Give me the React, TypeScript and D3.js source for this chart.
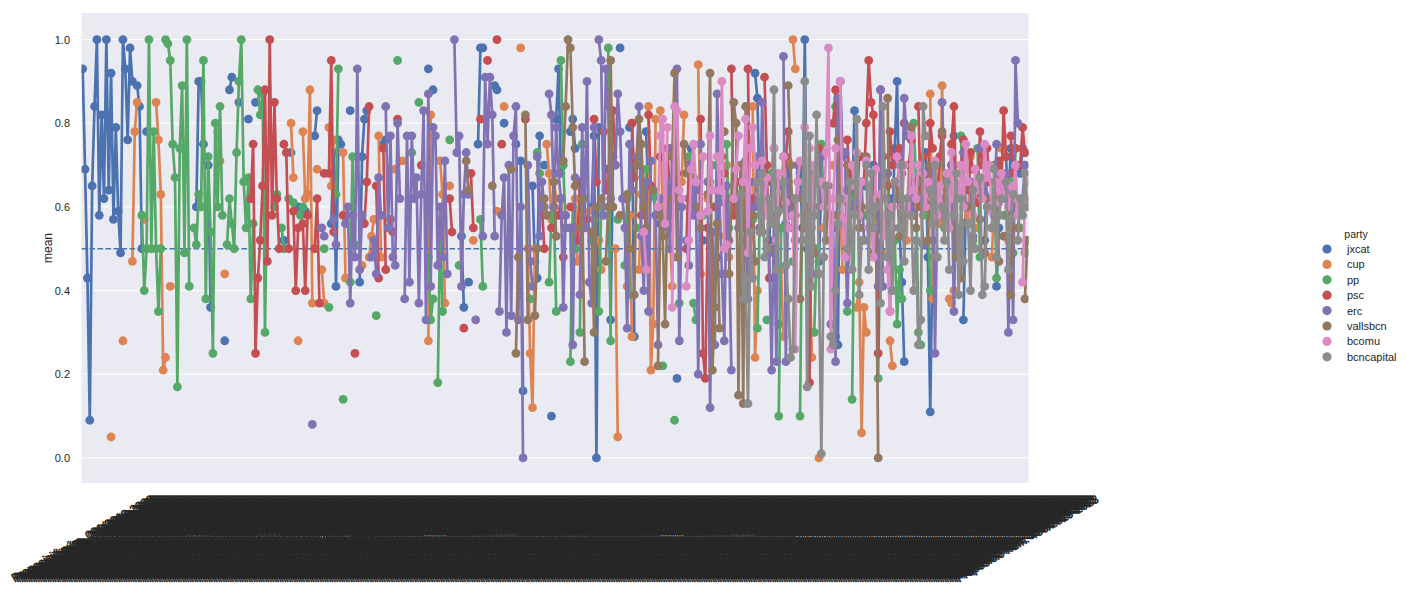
import React, { useEffect, useRef } from "react";
import * as d3 from "d3";

type Run = [number, number[]]; // [first category index, consecutive values]

const N_CATEGORIES = 400;
// tick labels are unreadable in the reference (a solid block of rotated text)
const categories: string[] = d3
    .range(N_CATEGORIES)
    .map((i) => `Proposició núm. ${String(i + 1).padStart(3, "0")}/2019-2023`);

const parties = ["jxcat", "cup", "pp", "psc", "erc", "vallsbcn", "bcomu", "bcncapital"];
const partyColors = ["#4C72B0", "#DD8452", "#55A868", "#C44E52", "#8172B3", "#937860", "#DA8BC3", "#8C8C8C"];

const yTicks = [0, 0.2, 0.4, 0.6, 0.8, 1.0];
const threshold = 0.5;

const jxcatRuns: Run[] = [
    [0, [0.93, 0.69, 0.43, 0.09, 0.65, 0.84, 1.0, 0.58, 0.82, 0.62, 1.0, 0.64, 0.92, 0.57, 0.79, 0.59, 0.49, 1.0, 0.93, 0.76, 0.98, 0.9]],
    [23, [0.89, 0.84, 0.5]], [27, [0.78]], [48, [0.6, 0.9, 0.9, 0.75]], [53, [0.7, 0.36]], [60, [0.28]],
    [62, [0.88, 0.91]], [66, [0.85]], [70, [0.81]], [73, [0.85]], [85, [0.52]], [88, [0.73]], [91, [0.6]],
    [94, [0.59]], [98, [0.77, 0.83]], [105, [0.56, 0.73, 0.41, 0.76, 0.75]], [113, [0.83]],
    [117, [0.42, 0.72, 0.81, 0.83]], [127, [0.75, 0.76]], [146, [0.93]], [148, [0.88]], [160, [0.53, 0.36]],
    [163, [0.42]], [167, [0.75, 0.98, 0.98]], [174, [0.89, 0.88]], [178, [0.8]], [183, [0.75]],
    [185, [0.71, 0.16]], [190, [0.65, 0.47, 0.43, 0.77]], [195, [0.7]], [198, [0.1]], [200, [0.81, 0.93, 0.68]],
    [206, [0.78, 0.81, 0.74]], [215, [0.6, 0.77, 0.0, 0.79]], [222, [0.69, 0.33, 0.72]], [227, [0.98]],
    [231, [0.79, 0.8, 0.29]], [238, [0.78, 0.62]], [244, [0.56]], [251, [0.19]], [256, [0.62, 0.74]],
    [262, [0.52]], [268, [0.48, 0.66]], [275, [0.61]], [279, [0.55, 0.71]], [284, [0.92, 0.86, 0.6]],
    [290, [0.52, 0.66]], [294, [0.32]], [297, [0.56, 0.7, 0.62]], [303, [0.68, 0.55, 1.0, 0.5, 0.62]],
    [311, [0.47, 0.66]], [316, [0.58, 0.4, 0.29, 0.27, 0.9, 0.72]], [325, [0.6, 0.83]], [330, [0.65]],
    [334, [0.7, 0.48]], [340, [0.58, 0.62, 0.55, 0.74, 0.9, 0.55, 0.42, 0.23]], [352, [0.66]],
    [356, [0.73, 0.48, 0.11, 0.52]], [362, [0.62, 0.58]], [367, [0.7, 0.77, 0.55]], [372, [0.33, 0.6]],
    [378, [0.66]], [381, [0.52, 0.7]], [386, [0.41, 0.55]], [390, [0.72, 0.6, 0.74]], [396, [0.68, 0.74, 0.73]],
];

const cupRuns: Run[] = [
    [12, [0.05]], [17, [0.28]], [21, [0.47, 0.78, 0.85]], [26, [0.57]], [31, [0.85, 0.76, 0.63, 0.21, 0.24]],
    [37, [0.41]], [57, [0.78, 0.71]], [60, [0.44]], [88, [0.8, 0.67]], [91, [0.28]],
    [93, [0.78, 0.62, 0.63, 0.88, 0.37]], [99, [0.69]], [101, [0.45, 0.37]], [104, [0.79, 0.65, 0.76]],
    [110, [0.73, 0.43]], [118, [0.46]], [121, [0.48, 0.53, 0.57]], [125, [0.77, 0.48]], [132, [0.69]],
    [135, [0.71]], [146, [0.28, 0.82]], [151, [0.71, 0.63, 0.37]], [155, [0.65]], [165, [0.52]], [175, [0.59]],
    [178, [0.84]], [185, [0.98]], [188, [0.5, 0.25, 0.12, 0.5]], [196, [0.75, 0.68, 0.57, 0.66, 0.62]],
    [204, [0.55]], [208, [0.62, 0.47]], [214, [0.59]], [218, [0.52, 0.45]], [225, [0.5, 0.05]],
    [230, [0.41, 0.58, 0.29]], [235, [0.45, 0.63]], [239, [0.84, 0.21, 0.32, 0.81]], [244, [0.83, 0.57]],
    [248, [0.55, 0.41]], [253, [0.66, 0.82]], [258, [0.6]], [260, [0.94, 0.44]], [264, [0.62, 0.38]],
    [269, [0.53]], [272, [0.7, 0.48]], [277, [0.66]], [280, [0.61, 0.55]], [283, [0.84, 0.24, 0.4]],
    [288, [0.68]], [291, [0.57, 0.62]], [295, [0.45, 0.29]], [298, [0.71]], [300, [1.0, 0.93]], [303, [0.63]],
    [306, [0.52, 0.45, 0.24]], [311, [0.0]], [313, [0.55, 0.62]], [317, [0.7]], [320, [0.58, 0.45]],
    [324, [0.66]], [327, [0.36, 0.42, 0.06, 0.36, 0.3]], [334, [0.58]], [337, [0.62, 0.49]],
    [341, [0.28, 0.22]], [345, [0.63]], [348, [0.52, 0.7]], [352, [0.66]], [355, [0.58, 0.6]],
    [358, [0.87, 0.38]], [362, [0.56, 0.89, 0.6]], [366, [0.38, 0.37, 0.4]], [371, [0.62]], [374, [0.58, 0.72]],
    [378, [0.55]], [381, [0.66]], [384, [0.48, 0.6]], [388, [0.74]], [391, [0.52, 0.63]], [395, [0.7]],
    [398, [0.62]],
];

const ppRuns: Run[] = [
    [25, [0.58, 0.4, 0.5, 1.0, 0.5, 0.78, 0.5, 0.35, 0.5]],
    [35, [1.0, 0.99, 0.95, 0.75, 0.67, 0.17, 0.74, 0.89, 0.49, 1.0, 0.41]],
    [47, [0.55, 0.51, 0.63, 0.6, 0.95, 0.38, 0.72, 0.54, 0.25, 0.8, 0.6, 0.84, 0.58]],
    [61, [0.51, 0.62, 0.56, 0.5, 0.73, 0.9, 1.0, 0.66, 0.55, 0.67, 0.38, 0.56]],
    [74, [0.88, 0.82, 0.87, 0.3, 0.72]], [81, [0.6, 0.63]], [84, [0.55, 0.5]], [87, [0.62]], [89, [0.61]],
    [92, [0.58, 0.6]], [102, [0.5]], [104, [0.36]], [107, [0.63, 0.93]], [110, [0.14]], [113, [0.42, 0.72, 0.51]],
    [124, [0.34]], [133, [0.95]], [139, [0.73]], [142, [0.85]], [146, [0.48, 0.33, 0.38]],
    [150, [0.18, 0.56, 0.35]], [155, [0.76]], [159, [0.46]], [168, [0.57, 0.41]], [189, [0.38]],
    [192, [0.73, 0.68]], [197, [0.42, 0.58, 0.6, 0.35]], [202, [0.95, 0.7, 0.55]], [206, [0.23, 0.6, 0.5]],
    [210, [0.3, 0.75, 0.62]], [215, [0.52, 0.57]], [218, [0.35, 0.6]], [222, [0.98, 0.28]], [226, [0.57]],
    [229, [0.46, 0.62, 0.39]], [234, [0.55]], [237, [0.6, 0.69]], [241, [0.63, 0.58]], [245, [0.22]],
    [248, [0.74]], [250, [0.09]], [252, [0.37, 0.6]], [256, [0.72]], [258, [0.37, 0.33]], [262, [0.58]],
    [265, [0.66, 0.7]], [269, [0.62]], [272, [0.75, 0.55]], [276, [0.6]], [279, [0.68, 0.52]], [283, [0.57]],
    [285, [0.31, 0.58]], [289, [0.33]], [291, [0.68, 0.74]], [294, [0.1, 0.55]], [298, [0.62]], [300, [0.47]],
    [303, [0.1, 0.66]], [306, [0.55]], [309, [0.3, 0.5]], [312, [0.75, 0.62]], [316, [0.58]], [318, [0.84, 0.62]],
    [322, [0.56, 0.35]], [325, [0.14, 0.62]], [329, [0.72]], [331, [0.58, 0.65]], [336, [0.19, 0.57]],
    [340, [0.68]], [343, [0.52, 0.32, 0.45, 0.38]], [349, [0.6]], [351, [0.8, 0.66, 0.3, 0.27]],
    [357, [0.58, 0.4]], [361, [0.7]], [364, [0.55, 0.62]], [368, [0.66]], [371, [0.77, 0.6]], [375, [0.56]],
    [378, [0.74, 0.48]], [382, [0.62]], [385, [0.7, 0.43]], [389, [0.58]], [392, [0.66, 0.49, 0.74]],
    [396, [0.55]], [398, [0.49, 0.52]],
];

const pscRuns: Run[] = [
    [71, [0.62, 0.75, 0.25, 0.43, 0.52, 0.65, 0.88, 0.47, 1.0, 0.58, 0.85, 0.62, 0.5]],
    [85, [0.75, 0.73, 0.5]], [89, [0.59, 0.4, 0.55]], [93, [0.56, 0.4, 0.58]], [98, [0.5, 0.62, 0.37]],
    [102, [0.68]], [104, [0.68, 0.95, 0.54]], [110, [0.58]], [115, [0.25]], [119, [0.56, 0.66, 0.84]],
    [124, [0.65, 0.43]], [127, [0.74, 0.45]], [130, [0.57, 0.54]], [133, [0.81]], [143, [0.7]],
    [155, [0.62, 0.54]], [161, [0.31]], [164, [0.68, 0.55]], [168, [0.81]], [171, [0.95]], [175, [1.0]],
    [177, [0.75]], [187, [0.81]], [194, [0.6, 0.5]], [198, [0.55]], [201, [0.58, 0.62, 0.48]], [206, [0.6]],
    [209, [0.52, 0.66]], [213, [0.57]], [216, [0.81, 0.66]], [220, [0.78, 0.64]], [224, [0.83, 0.7]],
    [229, [0.62]], [232, [0.8, 0.67]], [236, [0.58]], [239, [0.82, 0.65]], [244, [0.72]], [247, [0.74, 0.62]],
    [251, [0.68]], [255, [0.5, 0.7]], [259, [0.66]], [261, [0.81, 0.25, 0.19, 0.55]], [267, [0.6]],
    [270, [0.72, 0.68]], [274, [0.93, 0.58]], [278, [0.66]], [281, [0.93, 0.48, 0.62]], [286, [0.55]],
    [288, [0.91, 0.7, 0.43]], [293, [0.66]], [296, [0.6, 0.72, 0.78]], [300, [0.62, 0.58]],
    [304, [0.7, 0.55, 0.65, 0.18, 0.66]], [311, [0.74, 0.63]], [315, [0.58]], [317, [0.8, 0.88, 0.82, 0.62]],
    [323, [0.76, 0.64, 0.7]], [327, [0.6, 0.72]], [330, [0.66, 0.8, 0.95, 0.85, 0.82, 0.58, 0.25, 0.88, 0.72]],
    [340, [0.65, 0.78, 0.7]], [344, [0.62, 0.74, 0.68, 0.8]], [349, [0.7, 0.76, 0.58]], [353, [0.84, 0.6, 0.72]],
    [357, [0.66, 0.8, 0.74]], [361, [0.63, 0.72, 0.77]], [365, [0.68, 0.58, 0.75, 0.84, 0.62]],
    [371, [0.7, 0.76]], [374, [0.64, 0.73, 0.69]], [378, [0.61, 0.78, 0.7]], [382, [0.74, 0.66]],
    [386, [0.6, 0.71, 0.64, 0.83, 0.72]], [392, [0.77, 0.68, 0.74]], [396, [0.7, 0.79, 0.73]],
];

const ercRuns: Run[] = [
    [97, [0.08]], [101, [0.55, 0.53]], [106, [0.57, 0.51]], [111, [0.56, 0.6, 0.37, 0.58, 0.48, 0.93, 0.45, 0.58]],
    [122, [0.48, 0.52, 0.44, 0.67, 0.58]], [128, [0.84, 0.55, 0.77, 0.48, 0.46, 0.8, 0.62]],
    [136, [0.38, 0.77, 0.42, 0.77, 0.62, 0.67, 0.37, 0.63, 0.83, 0.33, 0.87, 0.41, 0.79, 0.77, 0.46, 0.6, 0.48, 0.71, 0.44]],
    [157, [1.0, 0.73, 0.77, 0.41, 0.63, 0.73, 0.63]], [166, [0.33]], [169, [0.53, 0.91, 0.75, 0.91, 0.82, 0.53]],
    [176, [0.35, 0.58, 0.67, 0.3, 0.7, 0.34, 0.77, 0.84, 0.33, 0.6, 0.0]], [188, [0.7, 0.47, 0.41]],
    [192, [0.72, 0.53, 0.66, 0.6]], [197, [0.87, 0.82, 0.6, 0.79, 0.68, 0.62, 0.36, 0.58]],
    [206, [0.55, 0.27, 0.67]], [210, [0.39, 0.79, 0.55, 0.9, 0.42, 0.37, 0.79]],
    [218, [1.0, 0.95, 0.58, 0.93, 0.84, 0.62]], [225, [0.7, 0.87, 0.78, 0.62, 0.55, 0.31, 0.75, 0.64]],
    [234, [0.72, 0.84, 0.53, 0.4, 0.66, 0.35, 0.71]], [242, [0.58, 0.27, 0.62, 0.55]],
    [247, [0.66, 0.5, 0.74, 0.62, 0.93, 0.28, 0.6]], [255, [0.52, 0.46, 0.7, 0.58, 0.64, 0.2, 0.75]],
    [264, [0.66, 0.12, 0.54, 0.27, 0.87, 0.61, 0.44, 0.28, 0.65, 0.52, 0.21]], [276, [0.62, 0.55, 0.7]],
    [280, [0.58, 0.38, 0.66]], [284, [0.6, 0.72, 0.55, 0.85, 0.61]], [290, [0.49, 0.21, 0.58, 0.23, 0.65]],
    [296, [0.96, 0.23, 0.66, 0.58]], [301, [0.52, 0.7]], [304, [0.63]], [307, [0.58, 0.44]], [311, [0.6, 0.72]],
    [316, [0.32, 0.55, 0.23, 0.86, 0.64]], [322, [0.73, 0.37, 0.58]], [326, [0.61]], [329, [0.66, 0.52]],
    [334, [0.6, 0.55, 0.41, 0.88, 0.41]], [340, [0.68, 0.56]], [344, [0.62, 0.7, 0.55, 0.86, 0.77]],
    [350, [0.59, 0.66]], [354, [0.62, 0.51]], [359, [0.68, 0.25, 0.6]], [363, [0.85, 0.62]],
    [366, [0.58, 0.7, 0.35, 0.64]], [372, [0.73, 0.6]], [375, [0.66, 0.53]], [379, [0.74]], [381, [0.63, 0.7]],
    [385, [0.58, 0.75]], [389, [0.62, 0.68, 0.3, 0.64, 0.33, 0.95, 0.8]], [397, [0.62, 0.7]],
];

const vallsbcnRuns: Run[] = [
    [162, [0.71, 0.64]], [173, [0.65]], [181, [0.69]], [183, [0.25, 0.48]], [187, [0.82, 0.33]],
    [191, [0.34, 0.5]], [195, [0.62, 0.58]], [199, [0.66, 0.53]], [203, [0.71, 0.84, 1.0, 0.98, 0.79, 0.65]],
    [210, [0.55, 0.62, 0.23]], [215, [0.54, 0.3, 0.6]], [219, [0.62]], [221, [0.47, 0.6, 0.95, 0.6]],
    [227, [0.58]], [230, [0.63, 0.5]], [233, [0.39, 0.7, 0.81, 0.75, 0.6, 0.55]], [241, [0.64]],
    [243, [0.22, 0.58, 0.53, 0.32, 0.62]], [249, [0.72, 0.92, 0.48]], [254, [0.75, 0.68]], [258, [0.67]],
    [260, [0.6, 0.55]], [264, [0.63, 0.92, 0.21, 0.36, 0.56, 0.31]], [271, [0.78]],
    [273, [0.44, 0.62, 0.85, 0.8, 0.15, 0.7, 0.13, 0.84, 0.52]], [283, [0.58, 0.47]], [286, [0.62, 0.54]],
    [290, [0.5]], [292, [0.66, 0.58]], [295, [0.6, 0.72]], [298, [0.89, 0.7, 0.55]], [303, [0.38, 0.62]],
    [306, [0.56]], [308, [0.68, 0.49]], [312, [0.6]], [314, [0.52, 0.65]], [317, [0.58]], [319, [0.76, 0.61]],
    [323, [0.7, 0.52]], [326, [0.64]], [328, [0.55, 0.6]], [331, [0.72]], [333, [0.58, 0.49, 0.62, 0.0]],
    [338, [0.54]], [340, [0.86, 0.35, 0.6]], [344, [0.66, 0.53]], [347, [0.58]], [349, [0.62, 0.79]],
    [352, [0.55, 0.66]], [355, [0.6]], [357, [0.52, 0.7]], [361, [0.58]], [363, [0.78, 0.61]], [366, [0.55]],
    [368, [0.63, 0.48]], [371, [0.43, 0.56]], [374, [0.6]], [376, [0.52, 0.65]], [379, [0.57]],
    [381, [0.49, 0.62]], [384, [0.55]], [386, [0.6, 0.47]], [389, [0.53]], [391, [0.58, 0.39, 0.62]],
    [395, [0.55, 0.6]], [398, [0.38, 0.52]],
];

const bcomuRuns: Run[] = [
    [237, [0.54, 0.45]], [243, [0.6, 0.77, 0.81, 0.56, 0.79]], [249, [0.36, 0.84, 0.83, 0.64, 0.62]],
    [255, [0.41, 0.52, 0.69, 0.75, 0.66]], [261, [0.58, 0.72]], [264, [0.59, 0.77, 0.64]],
    [268, [0.72, 0.64, 0.9, 0.5, 0.51]], [275, [0.62, 0.69, 0.77]], [279, [0.66, 0.81, 0.49, 0.74, 0.79, 0.7]],
    [286, [0.63, 0.71, 0.58, 0.67]], [291, [0.6, 0.74, 0.52, 0.68]], [296, [0.72, 0.61, 0.55]],
    [300, [0.58, 0.26, 0.66, 0.71]], [305, [0.79, 0.62, 0.74, 0.55, 0.7]],
    [312, [0.66, 0.6, 0.73, 0.98, 0.26, 0.62, 0.74]], [320, [0.9, 0.57, 0.48, 0.62]],
    [325, [0.7, 0.65, 0.73, 0.58, 0.66]], [331, [0.71, 0.55, 0.62, 0.48, 0.69]],
    [337, [0.63, 0.53, 0.58, 0.45, 0.35, 0.6]], [344, [0.72, 0.66, 0.6, 0.7]], [349, [0.58, 0.77, 0.64, 0.62, 0.7]],
    [355, [0.68, 0.6, 0.66]], [359, [0.62, 0.71, 0.58, 0.65, 0.6]], [365, [0.68, 0.55, 0.73, 0.62]],
    [370, [0.64, 0.7, 0.6, 0.75, 0.66]], [376, [0.58, 0.69, 0.64]], [380, [0.62, 0.75, 0.67, 0.7, 0.59]],
    [386, [0.66, 0.61, 0.68, 0.63]], [391, [0.6, 0.65, 0.62, 0.7, 0.58]], [397, [0.42, 0.62, 0.66]],
];

const bcncapitalRuns: Run[] = [
    [278, [0.63, 0.38, 0.43, 0.13, 0.54, 0.43]], [285, [0.66, 0.54, 0.68, 0.48, 0.5, 0.62, 0.56, 0.88, 0.45, 0.59]],
    [296, [0.66, 0.46, 0.38, 0.24, 0.26, 0.62]], [304, [0.52, 0.9, 0.17, 0.77, 0.41, 0.58, 0.82, 0.44, 0.01, 0.48, 0.65]],
    [316, [0.29, 0.27, 0.4, 0.56, 0.62]], [323, [0.5, 0.66, 0.45, 0.58, 0.81, 0.39, 0.52]],
    [331, [0.7, 0.45, 0.68, 0.55, 0.6]], [337, [0.37, 0.84, 0.62, 0.48, 0.58, 0.4, 0.66]],
    [345, [0.55, 0.7, 0.47, 0.62]], [350, [0.58, 0.4, 0.52, 0.27, 0.33, 0.84, 0.77]], [358, [0.64, 0.56, 0.7, 0.48]],
    [363, [0.6, 0.52, 0.66, 0.45]], [368, [0.58, 0.68, 0.39, 0.62, 0.47]], [374, [0.56, 0.4, 0.64, 0.5]],
    [379, [0.67, 0.39, 0.41, 0.6]], [384, [0.55, 0.69, 0.48, 0.58, 0.62]], [390, [0.66, 0.45, 0.57, 0.63]],
    [395, [0.52, 0.62, 0.58, 0.68, 0.6]],
];

const partyRuns: Run[][] = [jxcatRuns, cupRuns, ppRuns, pscRuns, ercRuns, vallsbcnRuns, bcomuRuns, bcncapitalRuns];

// put the runs on the category axis, null where a party has no value
const toSeries = (runs: Run[]): (number | null)[] => {
    const s: (number | null)[] = new Array(N_CATEGORIES).fill(null);
    runs.forEach(([start, vals]) => vals.forEach((v, k) => { s[start + k] = v; }));
    return s;
};

const App: React.FC = () => {
    const svgRef = useRef<SVGSVGElement | null>(null);

    useEffect(() => {
        if (!svgRef.current) return;
        const svg = d3.select(svgRef.current);
        svg.selectAll("*").remove();

        const W = 1406;
        const H = 592;
        const plot = { left: 81.5, right: 1028.5, top: 13, bottom: 483 };
        const font = "'Liberation Sans', Arial, sans-serif";
        const textColor = "#262626";

        svg.attr("width", W).attr("height", H).style("font-family", font);

        const x = d3.scaleBand<string>().domain(categories).range([plot.left, plot.right]).padding(0);
        const xc = (i: number) => (x(categories[i]) ?? 0) + x.bandwidth() / 2;
        const y = d3.scaleLinear().domain([-0.06, 1.0635]).range([plot.bottom, plot.top]);

        svg.append("rect")
            .attr("x", plot.left).attr("y", plot.top)
            .attr("width", plot.right - plot.left).attr("height", plot.bottom - plot.top)
            .attr("fill", "#EAEAF2");

        svg.append("clipPath").attr("id", "plot-clip")
            .append("rect")
            .attr("x", plot.left).attr("y", plot.top)
            .attr("width", plot.right - plot.left).attr("height", plot.bottom - plot.top);

        // horizontal grid
        svg.append("g").selectAll("line").data(yTicks).enter().append("line")
            .attr("x1", plot.left).attr("x2", plot.right)
            .attr("y1", (d) => y(d)).attr("y2", (d) => y(d))
            .attr("stroke", "#fff").attr("stroke-width", 1);

        const content = svg.append("g").attr("clip-path", "url(#plot-clip)");

        const line = d3.line<number | null>()
            .defined((d) => d !== null)
            .x((_, i) => xc(i))
            .y((d) => y(d as number));

        parties.forEach((party, j) => {
            const series = toSeries(partyRuns[j]);
            const g = content.append("g").attr("class", `party-${party}`);
            g.append("path")
                .datum(series)
                .attr("d", line)
                .attr("fill", "none")
                .attr("stroke", partyColors[j])
                .attr("stroke-width", 2.7)
                .attr("stroke-linejoin", "round");
            const pts = series.map((v, i) => ({ i, v })).filter((p) => p.v !== null);
            g.selectAll("circle").data(pts).enter().append("circle")
                .attr("cx", (p) => xc(p.i))
                .attr("cy", (p) => y(p.v as number))
                .attr("r", 4.4)
                .attr("fill", partyColors[j]);

            if (j === 1) {
                content.append("line")
                    .attr("x1", plot.left).attr("x2", plot.right)
                    .attr("y1", y(threshold)).attr("y2", y(threshold))
                    .attr("stroke", partyColors[0])
                    .attr("stroke-width", 1.5)
                    .attr("stroke-dasharray", "5.6,2.4");
            }
        });

        // y tick labels
        svg.append("g").selectAll("text").data(yTicks).enter().append("text")
            .attr("x", 70).attr("y", (d) => y(d))
            .attr("text-anchor", "end").attr("dominant-baseline", "central")
            .attr("font-size", 11).attr("fill", textColor)
            .text((d) => d.toFixed(1));

        svg.append("text")
            .attr("transform", `translate(47.5,${(plot.top + plot.bottom) / 2}) rotate(-90)`)
            .attr("text-anchor", "middle").attr("dominant-baseline", "central")
            .attr("font-size", 12).attr("fill", textColor)
            .text("mean");

        // x tick labels, rotated 30 degrees and centred on the tick; they overlap into one dark block
        svg.append("g").selectAll("text").data(categories).enter().append("text")
            .attr("transform", (d) => `translate(${(x(d) ?? 0) + x.bandwidth() / 2},538.5) rotate(-30)`)
            .attr("text-anchor", "middle").attr("dominant-baseline", "central")
            .attr("font-size", 12).attr("fill", textColor)
            .attr("stroke", textColor).attr("stroke-width", 0.6)
            .attr("textLength", 162).attr("lengthAdjust", "spacingAndGlyphs")
            .text((d) => d);

        // legend
        const legend = svg.append("g");
        legend.append("text")
            .attr("x", 1356).attr("y", 234.3)
            .attr("text-anchor", "middle").attr("dominant-baseline", "central")
            .attr("font-size", 10.5).attr("fill", textColor)
            .text("party");
        const items = legend.selectAll(".item").data(parties).enter().append("g")
            .attr("class", "item")
            .attr("transform", (_, i) => `translate(1327,${249 + i * 15.4})`);
        items.append("circle").attr("r", 4.6).attr("fill", (_, i) => partyColors[i]);
        items.append("text")
            .attr("x", 20).attr("dominant-baseline", "central")
            .attr("font-size", 11).attr("fill", textColor)
            .text((d) => d);
    }, []);

    return (
        <div style={{ position: "absolute", left: 0, top: 0 }}>
            <svg ref={svgRef}></svg>
        </div>
    );
};

export default App;
